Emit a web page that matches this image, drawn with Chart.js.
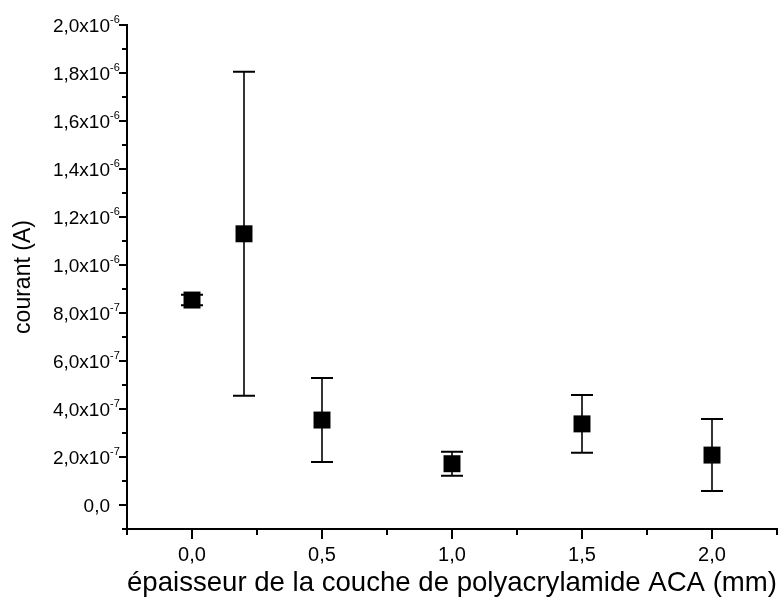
<!DOCTYPE html>
<html>
<head>
<meta charset="utf-8">
<script src="https://cdn.jsdelivr.net/npm/chart.js@4/dist/chart.umd.min.js"></script>
<style>
    html, body { margin: 0; padding: 0; background: #fff; overflow: hidden; }
    #conteneur { width: 781px; height: 611px; }
</style>
</head>
<body>
<div id="conteneur"><canvas id="graphique"></canvas></div>
<script>
// Données
const epaisseurs = [0.0, 0.2, 0.5, 1.0, 1.5, 2.0];
const courants = [8.54e-7, 1.13e-6, 3.54e-7, 1.72e-7, 3.38e-7, 2.08e-7];
const erreurs = [2.2e-8, 6.75e-7, 1.75e-7, 5.0e-8, 1.2e-7, 1.5e-7];

// Graduations
const ticksX = [0.0, 0.5, 1.0, 1.5, 2.0];
const etiquettesX = ['0,0', '0,5', '1,0', '1,5', '2,0'];
const ticksXMineurs = [-0.25, 0.25, 0.75, 1.25, 1.75, 2.25];

const ticksY = [0, 2e-7, 4e-7, 6e-7, 8e-7, 1e-6, 1.2e-6, 1.4e-6, 1.6e-6, 1.8e-6, 2e-6];
const mantissesY = ['0,0', '2,0x10', '4,0x10', '6,0x10', '8,0x10', '1,0x10', '1,2x10', '1,4x10', '1,6x10', '1,8x10', '2,0x10'];
const exposantsY = ['', '-7', '-7', '-7', '-7', '-6', '-6', '-6', '-6', '-6', '-6'];
const ticksYMineurs = [-1e-7, 1e-7, 3e-7, 5e-7, 7e-7, 9e-7, 1.1e-6, 1.3e-6, 1.5e-6, 1.7e-6, 1.9e-6];

const POLICE = "'Liberation Sans', Arial, sans-serif";

const points = epaisseurs.map((x, i) => ({ x: x, y: courants[i] }));

// Barres d'erreur dessinées avant les marqueurs
const barresErreur = {
    id: 'barresErreur',
    beforeDatasetsDraw(chart) {
        const ctx = chart.ctx;
        const sx = chart.scales.x, sy = chart.scales.y;
        ctx.save();
        ctx.strokeStyle = '#000';
        epaisseurs.forEach((x, i) => {
            const px = sx.getPixelForValue(x);
            const haut = sy.getPixelForValue(courants[i] + erreurs[i]);
            const bas = sy.getPixelForValue(courants[i] - erreurs[i]);
            ctx.lineWidth = 1.6;
            ctx.beginPath();
            ctx.moveTo(px, haut);
            ctx.lineTo(px, bas);
            ctx.stroke();
            ctx.lineWidth = 2;
            ctx.beginPath();
            ctx.moveTo(px - 11, haut);
            ctx.lineTo(px + 11, haut);
            ctx.moveTo(px - 11, bas);
            ctx.lineTo(px + 11, bas);
            ctx.stroke();
        });
        ctx.restore();
    }
};

// Graduations et étiquettes des axes (avec exposants)
const axesPersonnalises = {
    id: 'axesPersonnalises',
    afterDraw(chart) {
        const ctx = chart.ctx;
        const sx = chart.scales.x, sy = chart.scales.y;
        const zone = chart.chartArea;
        ctx.save();
        ctx.strokeStyle = '#000';
        ctx.fillStyle = '#000';
        ctx.lineWidth = 2;

        // axe Y
        ctx.beginPath();
        ticksY.forEach(v => {
            const py = Math.round(sy.getPixelForValue(v));
            ctx.moveTo(zone.left - 8, py);
            ctx.lineTo(zone.left, py);
        });
        ticksYMineurs.forEach(v => {
            const py = Math.round(sy.getPixelForValue(v));
            ctx.moveTo(zone.left - 5, py);
            ctx.lineTo(zone.left, py);
        });
        ctx.stroke();

        ticksY.forEach((v, i) => {
            const py = sy.getPixelForValue(v);
            ctx.font = '19px ' + POLICE;
            ctx.textAlign = 'right';
            ctx.textBaseline = 'middle';
            ctx.fillText(mantissesY[i], 110, py + 2);
            if (exposantsY[i]) {
                ctx.font = '11px ' + POLICE;
                ctx.textAlign = 'left';
                ctx.textBaseline = 'alphabetic';
                ctx.fillText(exposantsY[i], 110, py - 2);
            }
        });

        // axe X
        ctx.beginPath();
        ticksX.forEach(v => {
            const px = Math.round(sx.getPixelForValue(v));
            ctx.moveTo(px, zone.bottom);
            ctx.lineTo(px, zone.bottom + 10);
        });
        ticksXMineurs.forEach(v => {
            const px = Math.round(sx.getPixelForValue(v));
            ctx.moveTo(px, zone.bottom);
            ctx.lineTo(px, zone.bottom + 6);
        });
        ctx.stroke();

        ctx.font = '20px ' + POLICE;
        ctx.textAlign = 'center';
        ctx.textBaseline = 'middle';
        ticksX.forEach((v, i) => {
            ctx.fillText(etiquettesX[i], sx.getPixelForValue(v), zone.bottom + 26);
        });
        ctx.restore();
    }
};

const initialiserGraphique = () => {
    const ctx = document.getElementById('graphique');
    new Chart(ctx, {
        type: 'scatter',
        data: {
            datasets: [{
                data: points,
                pointStyle: 'rect',
                pointRadius: 12,
                pointHoverRadius: 12,
                backgroundColor: '#000',
                borderColor: '#000',
                borderWidth: 0
            }]
        },
        options: {
            responsive: true,
            maintainAspectRatio: false,
            animation: false,
            layout: { autoPadding: false, padding: { left: 0, right: 4, top: 25, bottom: 0 } },
            plugins: {
                legend: { display: false },
                tooltip: { enabled: false }
            },
            scales: {
                x: {
                    type: 'linear',
                    min: -0.25,
                    max: 2.25,
                    grid: { display: false },
                    border: { display: true, color: '#000', width: 2 },
                    ticks: { display: false },
                    title: {
                        display: true,
                        text: 'épaisseur de la couche de polyacrylamide ACA (mm)',
                        color: '#000',
                        font: { family: POLICE, size: 28, weight: 'normal' },
                        padding: { top: 0, bottom: 11 }
                    },
                    afterFit: (scale) => { scale.height = 82; }
                },
                y: {
                    type: 'linear',
                    min: -1e-7,
                    max: 2e-6,
                    grid: { display: false },
                    border: { display: true, color: '#000', width: 2 },
                    ticks: { display: false },
                    title: {
                        display: true,
                        text: 'courant (A)',
                        color: '#000',
                        font: { family: POLICE, size: 23, weight: 'normal' },
                        padding: { top: 10, bottom: 0 }
                    },
                    afterFit: (scale) => { scale.width = 127; }
                }
            }
        },
        plugins: [barresErreur, axesPersonnalises]
    });
};

if (document.readyState === 'loading') {
    document.addEventListener('DOMContentLoaded', initialiserGraphique);
} else {
    initialiserGraphique();
}
</script>
</body>
</html>
